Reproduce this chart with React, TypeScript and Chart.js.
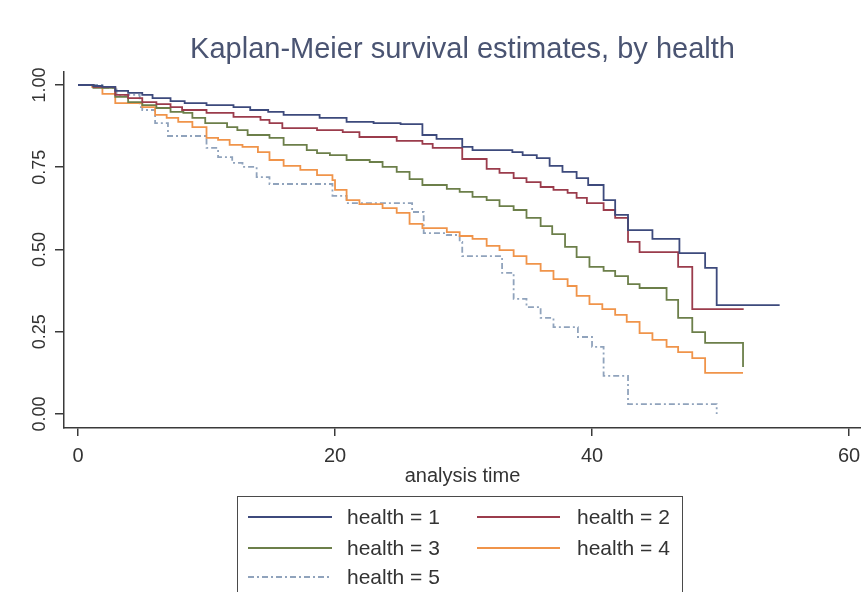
import React, { useEffect, useRef } from "react";
import { Chart, registerables } from "chart.js";

Chart.register(...registerables);

// ---------- data ----------
const titleText = "Kaplan-Meier survival estimates, by health";
const xAxisTitle = "analysis time";
const seriesNames = ["health = 1", "health = 2", "health = 3", "health = 4", "health = 5"];

const xTicks = [0, 20, 40, 60];
const yTicks = [0, 0.25, 0.5, 0.75, 1];

const h1Time = [0, 1.2, 1.9, 2.9, 3.9, 5.0, 5.8, 7.2, 8.3, 10.0, 12.1, 13.4, 14.8, 16.0, 18.8, 20.9, 23.0, 25.1, 26.8, 27.9, 29.9, 30.7, 33.8, 34.6, 35.7, 36.7, 37.7, 38.8, 39.7, 40.9, 41.8, 42.8, 44.7, 46.8, 48.8, 49.7, 54.6];
const h1Surv = [1, 0.997, 0.994, 0.982, 0.976, 0.970, 0.960, 0.951, 0.945, 0.939, 0.933, 0.924, 0.918, 0.909, 0.900, 0.888, 0.884, 0.881, 0.848, 0.836, 0.812, 0.802, 0.796, 0.787, 0.778, 0.754, 0.736, 0.717, 0.696, 0.650, 0.605, 0.559, 0.532, 0.489, 0.444, 0.331, 0.331];

const h2Time = [0, 1.2, 2.9, 3.9, 5.0, 6.1, 7.2, 8.1, 10.0, 12.1, 14.2, 14.9, 15.9, 18.6, 20.6, 21.9, 24.8, 26.8, 27.6, 29.9, 31.8, 32.8, 33.9, 34.9, 36.0, 37.0, 38.1, 38.8, 39.6, 40.9, 41.8, 42.8, 43.7, 46.7, 47.8, 51.8];
const h2Surv = [1, 0.994, 0.970, 0.960, 0.948, 0.942, 0.933, 0.924, 0.915, 0.903, 0.894, 0.884, 0.869, 0.863, 0.857, 0.842, 0.830, 0.821, 0.809, 0.775, 0.745, 0.733, 0.717, 0.705, 0.690, 0.681, 0.672, 0.657, 0.641, 0.620, 0.596, 0.523, 0.492, 0.447, 0.319, 0.319];

const h3Time = [0, 1.2, 2.9, 3.9, 5.0, 6.1, 7.2, 8.2, 8.9, 9.9, 11.6, 12.4, 13.2, 14.9, 16.0, 17.8, 18.6, 19.6, 20.9, 22.7, 23.7, 24.8, 25.8, 26.8, 28.7, 29.7, 30.7, 31.8, 32.8, 33.9, 34.9, 36.0, 36.9, 37.9, 38.8, 39.8, 40.9, 41.8, 42.8, 43.7, 45.8, 46.7, 47.8, 48.8, 51.75];
const h3Surv = [1, 0.991, 0.964, 0.948, 0.939, 0.930, 0.918, 0.915, 0.900, 0.884, 0.872, 0.863, 0.848, 0.839, 0.818, 0.802, 0.793, 0.787, 0.772, 0.766, 0.751, 0.736, 0.714, 0.696, 0.684, 0.675, 0.660, 0.650, 0.632, 0.620, 0.596, 0.571, 0.547, 0.508, 0.477, 0.447, 0.435, 0.419, 0.395, 0.383, 0.347, 0.292, 0.249, 0.216, 0.143];

const h4Time = [0, 1.1, 1.9, 2.9, 5.0, 6.0, 6.9, 7.8, 8.9, 10.0, 10.9, 11.8, 12.8, 14.0, 14.9, 16.0, 17.3, 18.6, 19.8, 20.0, 20.9, 21.9, 23.7, 24.8, 25.8, 26.8, 28.7, 29.7, 30.7, 31.8, 32.8, 33.9, 34.9, 36.0, 37.0, 38.1, 38.8, 39.8, 40.8, 41.8, 42.7, 43.7, 44.7, 45.8, 46.7, 47.8, 48.8, 51.75];
const h4Surv = [1, 0.994, 0.973, 0.945, 0.933, 0.909, 0.900, 0.888, 0.872, 0.839, 0.833, 0.818, 0.812, 0.796, 0.772, 0.754, 0.742, 0.726, 0.711, 0.681, 0.650, 0.638, 0.626, 0.611, 0.578, 0.565, 0.553, 0.541, 0.532, 0.511, 0.498, 0.480, 0.456, 0.435, 0.410, 0.389, 0.359, 0.334, 0.319, 0.301, 0.280, 0.246, 0.225, 0.204, 0.188, 0.170, 0.125, 0.125];

const h5Time = [0, 1.9, 3.0, 4.8, 5.0, 6.0, 7.0, 10.0, 10.9, 12.0, 12.8, 13.9, 14.9, 19.8, 20.9, 26.0, 26.9, 28.7, 29.7, 29.9, 33.0, 33.9, 34.9, 36.0, 37.0, 38.9, 40.0, 40.9, 42.8, 49.7];
const h5Surv = [1, 0.991, 0.970, 0.933, 0.924, 0.884, 0.845, 0.809, 0.781, 0.763, 0.751, 0.720, 0.699, 0.663, 0.641, 0.614, 0.550, 0.544, 0.523, 0.480, 0.429, 0.350, 0.325, 0.292, 0.264, 0.234, 0.204, 0.116, 0.030, 0];

const seriesTimes = [h1Time, h2Time, h3Time, h4Time, h5Time];
const seriesSurv = [h1Surv, h2Surv, h3Surv, h4Surv, h5Surv];

// ---------- styles ----------
const FONT = "'Liberation Sans', Arial, Helvetica, sans-serif";
const colors = ["#3d4a7c", "#9b3c4c", "#6c7f4a", "#f0944a", "#90a3bc"];
const dashes: number[][] = [[], [], [], [], [6, 3, 2, 3]];
const AXIS = "#3a3a3a";
const TXT = "#333333";
const TITLE_COLOR = "#4a5472";

const W = 861;
const H = 592;
const X_MIN = -1.09;
const X_MAX = 60.93;
const Y_MIN = -0.0426;
const Y_MAX = 1.0395;

const zeroPadding = (s: any) => {
  s.paddingLeft = 0;
  s.paddingRight = 0;
  s.paddingTop = 0;
  s.paddingBottom = 0;
};

export default function App() {
  const canvasRef = useRef<HTMLCanvasElement | null>(null);

  useEffect(() => {
    const canvas = canvasRef.current;
    if (!canvas) return;
    const datasets = seriesNames.map((name, i) => ({
      label: name,
      data: seriesTimes[i].map((t, j) => ({ x: t, y: seriesSurv[i][j] })),
      borderColor: colors[i],
      backgroundColor: colors[i],
      borderWidth: 1.8,
      borderDash: dashes[i],
      stepped: "before" as const,
      pointRadius: 0,
      fill: false,
      tension: 0,
    }));

    const chart = new Chart(canvas, {
      type: "line",
      data: { datasets },
      options: {
        animation: false,
        responsive: false,
        maintainAspectRatio: false,
        layout: { padding: { left: 0, right: 0, top: 0, bottom: 94 } },
        plugins: {
          legend: { display: false },
          tooltip: { enabled: false },
          title: {
            display: true,
            text: titleText,
            fullSize: false,
            color: TITLE_COLOR,
            font: { family: FONT, size: 29, weight: "normal", lineHeight: 1.2 },
            padding: { top: 32.6, bottom: 4.6 },
          },
        },
        scales: {
          x: {
            type: "linear",
            min: X_MIN,
            max: X_MAX,
            afterBuildTicks: (s: any) => {
              s.ticks = xTicks.map((v) => ({ value: v }));
            },
            afterFit: (s: any) => {
              s.height = 70;
              zeroPadding(s);
            },
            grid: { drawOnChartArea: false, drawTicks: true, tickLength: 8, color: AXIS, lineWidth: 1.5 },
            border: { display: true, color: AXIS, width: 1.5 },
            ticks: {
              color: TXT,
              font: { family: FONT, size: 20 },
              padding: 8,
              maxRotation: 0,
              autoSkip: false,
            },
            title: {
              display: true,
              text: xAxisTitle,
              color: TXT,
              font: { family: FONT, size: 20 },
              padding: { top: 0, bottom: 10 },
            },
          },
          y: {
            type: "linear",
            min: Y_MIN,
            max: Y_MAX,
            afterBuildTicks: (s: any) => {
              s.ticks = yTicks.map((v) => ({ value: v }));
            },
            afterFit: (s: any) => {
              s.width = 64;
              zeroPadding(s);
            },
            grid: { drawOnChartArea: false, drawTicks: true, tickLength: 9, color: AXIS, lineWidth: 1.5 },
            border: { display: true, color: AXIS, width: 1.5 },
            ticks: {
              color: TXT,
              font: { family: FONT, size: 18 },
              padding: -3,
              minRotation: 90,
              maxRotation: 90,
              crossAlign: "center",
              autoSkip: false,
              callback: (v: any) => Number(v).toFixed(2),
            },
          },
        },
      },
    } as any);
    return () => chart.destroy();
  }, []);

  const legendRows = [517, 548, 577];
  const legendCols = [
    { lineX1: 248, lineX2: 332, textX: 347 },
    { lineX1: 477, lineX2: 560, textX: 577 },
  ];

  return (
    <div
      style={{
        position: "absolute",
        left: 0,
        top: 0,
        width: W,
        height: H,
        overflow: "hidden",
        background: "#ffffff",
      }}
    >
      <canvas ref={canvasRef} width={W} height={H} style={{ position: "absolute", left: 0, top: 0 }} />
      <div
        style={{
          position: "absolute",
          left: 237,
          top: 496,
          width: 446,
          height: 130,
          border: "1.5px solid #4a4a4a",
          boxSizing: "border-box",
        }}
      />
      <svg width={W} height={H} style={{ position: "absolute", left: 0, top: 0, pointerEvents: "none" }}>
        {seriesNames.map((name, i) => {
          const row = legendRows[Math.floor(i / 2)];
          const col = legendCols[i % 2];
          return (
            <line
              key={name}
              x1={col.lineX1}
              x2={col.lineX2}
              y1={row}
              y2={row}
              stroke={colors[i]}
              strokeWidth={1.8}
              strokeDasharray={dashes[i].length ? dashes[i].join(" ") : undefined}
            />
          );
        })}
      </svg>
      {seriesNames.map((name, i) => {
        const row = legendRows[Math.floor(i / 2)];
        const col = legendCols[i % 2];
        return (
          <div
            key={name}
            style={{
              position: "absolute",
              left: col.textX,
              top: row - 13,
              height: 26,
              lineHeight: "26px",
              fontFamily: FONT,
              fontSize: 21,
              color: TXT,
              whiteSpace: "nowrap",
            }}
          >
            {name}
          </div>
        );
      })}
    </div>
  );
}
